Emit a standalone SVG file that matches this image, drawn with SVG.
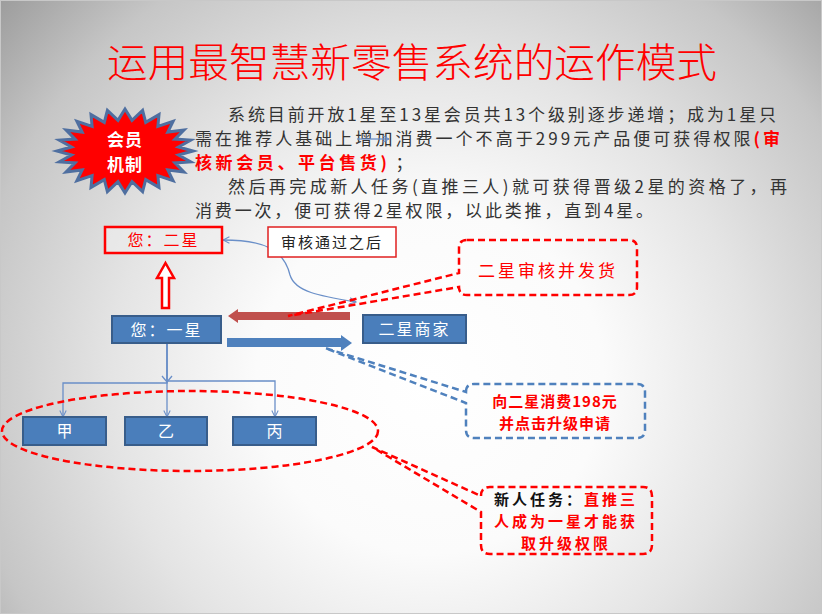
<svg xmlns="http://www.w3.org/2000/svg" width="822" height="614" viewBox="0 0 822 614">
<defs>
<radialGradient id="bg" gradientUnits="userSpaceOnUse" cx="430" cy="380" r="580">
<stop offset="0" stop-color="#ffffff"/>
<stop offset="0.3" stop-color="#fbfbfb"/>
<stop offset="0.55" stop-color="#e4e4e4"/>
<stop offset="0.8" stop-color="#c6c6c6"/>
<stop offset="1" stop-color="#9a9a9a"/>
</radialGradient>
<marker id="open" viewBox="0 0 10 10" refX="9" refY="5" markerWidth="8" markerHeight="8" orient="auto-start-reverse" markerUnits="userSpaceOnUse">
<path d="M1,1 L9,5 L1,9" fill="none" stroke="#6a8fc8" stroke-width="1.3"/>
</marker>
<style>
.cjk{font-family:"Noto Sans CJK SC","Noto Sans",sans-serif}
.body{font-size:17px;fill:#333333}
.red{fill:#ff0000}
.blue{fill:#4a7ebb;stroke:#385d8a;stroke-width:2}
.wt{fill:#ffffff;font-size:16px;text-anchor:middle}
.conn{fill:none;stroke:#6a8fc8;stroke-width:1.3}
.dr{fill:none;stroke:#ff0000;stroke-width:2.5;stroke-dasharray:7,4}
.db{fill:none;stroke:#4f81bd;stroke-width:2.5;stroke-dasharray:7,4}
</style>
</defs>
<rect x="0" y="0" width="822" height="614" fill="url(#bg)"/>
<rect x="0.5" y="0.5" width="821" height="613" fill="none" stroke="#c8c8c8"/>

<text class="cjk red" x="107" y="77" font-size="40" font-weight="300" textLength="610" lengthAdjust="spacingAndGlyphs">运用最智慧新零售系统的运作模式</text>

<g id="starburst">
<polygon fill="#ff0000" stroke="#4f6fa0" stroke-width="3" stroke-linejoin="miter" points="193,151 178.5,155 190.7,161.9 174.9,162.9 183.9,172 167.8,169.9 173.1,180.7 157.9,175.6 159,187.4 145.7,179.6 142.6,191.6 132,181.7 125,193 118,181.7 107.4,191.6 104.3,179.6 91,187.4 92.1,175.6 76.9,180.7 82.2,169.9 66.1,172 75.1,162.9 59.3,161.9 71.5,155 57,151 71.5,147 59.3,140.1 75.1,139.1 66.1,130 82.2,132.1 76.9,121.3 92.1,126.4 91,114.6 104.3,122.4 107.4,110.4 118,120.3 125,109 132,120.3 142.6,110.4 145.7,122.4 159,114.6 157.9,126.4 173.1,121.3 167.8,132.1 183.9,130 174.9,139.1 190.7,140.1 178.5,147"/>
<text class="cjk" x="125" y="146" font-size="17" font-weight="bold" fill="#ffffff" text-anchor="middle" letter-spacing="1">会员</text>
<text class="cjk" x="125" y="171" font-size="17" font-weight="bold" fill="#ffffff" text-anchor="middle" letter-spacing="1">机制</text>
</g>

<g id="paragraph" class="cjk body">
<text x="228" y="121" textLength="548" lengthAdjust="spacing">系统目前开放1星至13星会员共13个级别逐步递增；成为1星只</text>
<text x="195" y="145" textLength="585" lengthAdjust="spacing">需在推荐人基础上增加消费一个不高于299元产品便可获得权限<tspan fill="#ff0000" font-weight="bold">(审</tspan></text>
<text x="195" y="169"><tspan fill="#ff0000" font-weight="bold" letter-spacing="3.6">核新会员、平台售货)</tspan><tspan dx="5">；</tspan></text>
<text x="228" y="193" textLength="559" lengthAdjust="spacing">然后再完成新人任务(直推三人)就可获得晋级2星的资格了，再</text>
<text x="195" y="217" textLength="458" lengthAdjust="spacing">消费一次，便可获得2星权限，以此类推，直到4星。</text>
</g>

<g id="connectors">
<path class="conn" d="M357,139 H389" marker-end="url(#open)"/>
<path class="conn" d="M356,302 C320,296 295,292 290,275 C284,250 265,240 223,240" marker-start="url(#open)" marker-end="url(#open)"/>
<path class="conn" d="M167,343 V383 H63 V417" marker-end="url(#open)"/>
<path class="conn" d="M167,343 V417" marker-end="url(#open)"/>
<path class="conn" d="M167,343 V381 H275 V417" marker-end="url(#open)"/>
<path class="conn" d="M162,376 L167,382 L172,376"/>
<polygon fill="#c0504d" points="350,312 238,312 238,309 228,316 238,323 238,320 350,320"/>
<polygon fill="#4f81bd" points="227,338 341,338 341,335 352,343 341,351 341,347 227,347"/>
<polygon fill="#ffffff" stroke="#ff0000" stroke-width="2.5" points="165.5,263 174,278 169,278 169,308 162,308 162,278 157,278"/>
</g>

<g id="node-2star">
<rect x="105" y="227" width="117" height="26" fill="#eeeeee" fill-opacity="0.6" stroke="#ff0000" stroke-width="2.5"/>
<text class="cjk red" x="163.5" y="246" font-size="16" text-anchor="middle" letter-spacing="2">您：二星</text>
</g>

<g id="node-after">
<rect x="268" y="227" width="128" height="30" fill="#ffffff" stroke="#e02020" stroke-width="1.5"/>
<text class="cjk" x="332" y="248" font-size="15" fill="#222222" text-anchor="middle" letter-spacing="2">审核通过之后</text>
</g>

<g id="node-1star">
<rect class="blue" x="112" y="316" width="109" height="27"/>
<text class="cjk wt" x="166.5" y="336" letter-spacing="2">您：一星</text>
</g>

<g id="node-merchant">
<rect class="blue" x="363" y="315" width="103" height="28"/>
<text class="cjk wt" x="414.5" y="335" letter-spacing="2">二星商家</text>
</g>

<g id="node-jia">
<rect class="blue" x="23" y="417" width="83" height="28"/>
<text class="cjk wt" x="64.5" y="437">甲</text>
</g>
<g id="node-yi">
<rect class="blue" x="125" y="417" width="82" height="28"/>
<text class="cjk wt" x="166" y="437">乙</text>
</g>
<g id="node-bing">
<rect class="blue" x="233" y="417" width="83" height="28"/>
<text class="cjk wt" x="274.5" y="437">丙</text>
</g>

<g id="ellipse-group">
<ellipse class="dr" cx="190" cy="431" rx="188" ry="40"/>
</g>

<g id="callout-review">
<path class="dr" d="M467,240 H629 Q637,240 637,248 V287 Q637,295 629,295 H467 Q459,295 459,287 L288,316 L459,273 V248 Q459,240 467,240 Z"/>
<text class="cjk red" x="548" y="277" font-size="17" text-anchor="middle" letter-spacing="3">二星审核并发货</text>
</g>

<g id="callout-upgrade">
<path class="db" d="M466,392 Q466,384 474,384 H637 Q645,384 645,392 V430 Q645,438 637,438 H474 Q466,438 466,430 V403 L325,348 Z"/>
<text class="cjk red" x="555" y="407" font-size="15" font-weight="bold" text-anchor="middle" letter-spacing="1">向二星消费198元</text>
<text class="cjk red" x="555" y="429" font-size="15" font-weight="bold" text-anchor="middle" letter-spacing="1">并点击升级申请</text>
</g>

<g id="callout-task">
<path class="dr" d="M481,496 Q481,487 490,487 H643 Q652,487 652,496 V545 Q652,554 643,554 H490 Q481,554 481,545 V512 L372,447 Z"/>
<text class="cjk" x="566" y="505" font-size="15" font-weight="bold" text-anchor="middle" letter-spacing="3"><tspan fill="#111111">新人任务：</tspan><tspan fill="#ff0000">直推三</tspan></text>
<text class="cjk red" x="566" y="527" font-size="15" font-weight="bold" text-anchor="middle" letter-spacing="3">人成为一星才能获</text>
<text class="cjk red" x="566" y="549" font-size="15" font-weight="bold" text-anchor="middle" letter-spacing="3">取升级权限</text>
</g>
</svg>
